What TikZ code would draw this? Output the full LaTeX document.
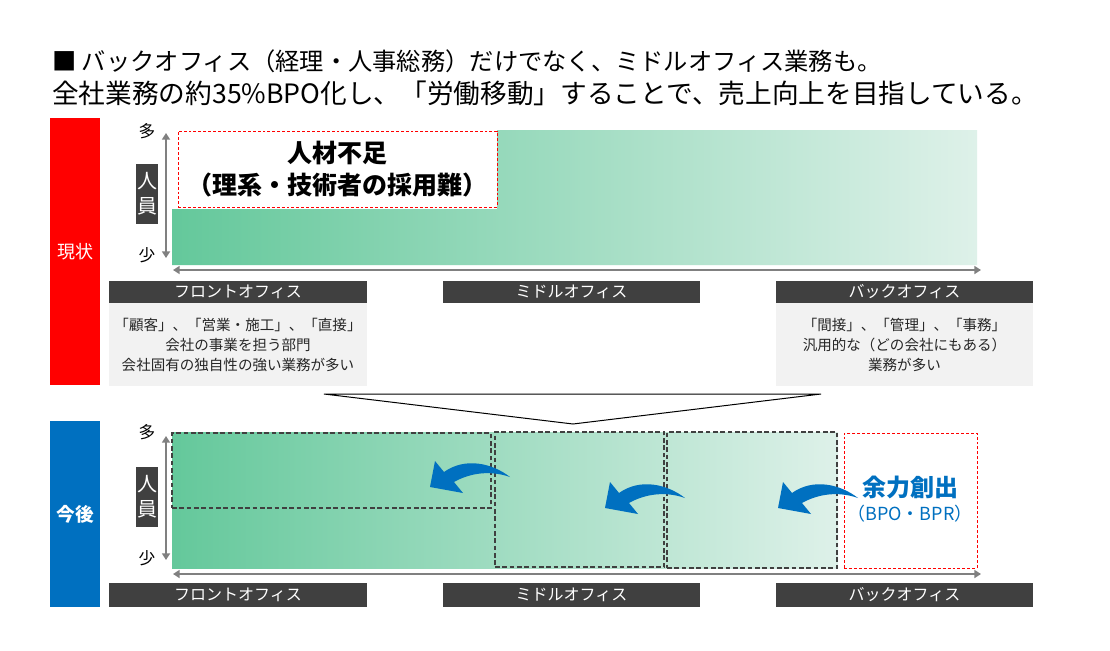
\documentclass[tikz,border=0pt]{standalone}
\usepackage{fontspec}
\setmainfont{Noto Sans CJK JP}
\usetikzlibrary{arrows.meta,fit}
\definecolor{gstart}{RGB}{100,200,155}
\definecolor{gend}{RGB}{222,241,233}
\definecolor{barc}{RGB}{64,64,64}
\definecolor{descc}{RGB}{242,242,242}
\definecolor{blueA}{RGB}{0,112,192}
\definecolor{axisc}{RGB}{128,128,128}
\definecolor{dashc}{RGB}{64,64,64}
\definecolor{txtc}{RGB}{38,38,38}
\tikzset{
  bar/.style={fill=barc, inner sep=0pt},
  bartxt/.style={text=white, inner sep=0pt, font=\fontsize{12}{14}\selectfont},
  desc/.style={fill=descc, inner sep=0pt},
  desctxt/.style={text=txtc, inner sep=0pt, align=center, font=\fontsize{10.9}{15}\selectfont},
  sidetag/.style={inner sep=0pt},
  staff/.style={fill=barc, inner sep=0pt},
  stafftxt/.style={text=white, inner sep=0pt, align=center, font=\fontsize{15}{18.75}\selectfont},
  axisline/.style={draw=axisc, line width=1.6pt, {Triangle[length=5pt,width=6pt]}-{Triangle[length=5pt,width=6pt]}},
  amount/.style={inner sep=0pt, text=black, font=\fontsize{12.5}{14}\selectfont},
  reddash/.style={draw=red, line width=0.75pt, dash pattern=on 2.2pt off 1.5pt, inner sep=0pt},
  greydash/.style={draw=dashc, line width=1.5pt, dash pattern=on 3.5pt off 2pt, inner sep=0pt},
  bigtxt/.style={inner sep=0pt, font=\fontsize{18.75}{22}\selectfont\bfseries},
  bentarrow/.pic={\fill[blueA] (0,0) -- (5,-26) -- (14,-15) .. controls (35,-30) and (62,-24) .. (80,-10) .. controls (60,-17) and (40,-14) .. (24,-5) -- (33,6) -- cycle;}
}
\begin{document}
\begin{tikzpicture}[x=0.75pt,y=-0.75pt]
\useasboundingbox (0,0) rectangle (1110,650);
\fill[white] (0,0) rectangle (1110,650);
% title
\node[anchor=west, inner sep=0pt, font=\fontsize{18.2}{20}\selectfont] (t1) at (52,61) {■ バックオフィス（経理・人事総務）だけでなく、ミドルオフィス業務も。};
\node[anchor=west, inner sep=0pt, font=\fontsize{20}{22}\selectfont] (t2) at (52,93) {全社業務の約35\%BPO化し、「労働移動」することで、売上向上を目指している。};
% side tags
\node[sidetag, fill=red, fit={(50,118) (100,385)}] (now) {};
\node[text=white, inner sep=0pt, font=\fontsize{13.5}{15}\selectfont] (nowt) at (now.center) {現状};
\node[sidetag, fill=blueA, fit={(50,421) (100,607)}] (future) {};
\node[text=white, inner sep=0pt, font=\fontsize{14}{15}\selectfont\bfseries] (futuret) at (future.center) {今後};
% ===== upper chart =====
\shade[left color=gstart, right color=gend] (172,209) -- (497,209) -- (497,130) -- (977,130) -- (977,265) -- (172,265) -- cycle;
\node[reddash, fit={(178,131) (497,207)}] (short) {};
\node[bigtxt] (s1) at (337,153) {人材不足};
\node[bigtxt] (s2) at (337,185) {（理系・技術者の採用難）};
\node[amount] (umany) at (147,131) {多};
\node[amount] (ufew) at (147,255) {少};
\node[staff, fit={(136,164) (158,224)}] (ustaff) {};
\node[stafftxt] (ustafft) at (ustaff.center) {人\\員};
\coordinate (uy1) at (166,133);
\coordinate (uy2) at (166,258);
\draw[axisline] (uy1) -- (uy2);
\coordinate (ux1) at (173,270);
\coordinate (ux2) at (981,270);
\draw[axisline] (ux1) -- (ux2);
\node[bar, fit={(109,281) (367,303)}] (uf) {};
\node[bartxt] (uft) at (uf.center) {フロントオフィス};
\node[bar, fit={(443,281) (700,303)}] (um) {};
\node[bartxt] (umt) at (um.center) {ミドルオフィス};
\node[bar, fit={(776,281) (1033,303)}] (ub) {};
\node[bartxt] (ubt) at (ub.center) {バックオフィス};
\node[desc, fit={(109,303) (367,386)}] (ufd) {};
\node[desctxt] (ufdt) at (ufd.center) {「顧客」、「営業・施工」、「直接」\\会社の事業を担う部門\\会社固有の独自性の強い業務が多い};
\node[desc, fit={(776,303) (1033,386)}] (ubd) {};
\node[desctxt] (ubdt) at (ubd.center) {「間接」、「管理」、「事務」\\汎用的な（どの会社にもある）\\業務が多い};
% funnel
\coordinate (fl) at (324,394);
\coordinate (fr) at (821,394);
\coordinate (fa) at (573,424);
\draw[line width=0.75pt] (fl) -- (fr) -- (fa) -- cycle;
% ===== lower chart =====
\shade[left color=gstart, right color=gend] (172,432) rectangle (838,568);
\node[greydash, fit={(172,433) (491,508)}] (b1) {};
\node[greydash, fit={(495,432) (664,567)}] (b2) {};
\node[greydash, fit={(667,432) (837,568)}] (b3) {};
\node[reddash, fit={(844,433) (977,568)}] (spare) {};
\node[inner sep=0pt, text=blueA, font=\fontsize{18}{20}\selectfont\bfseries] (sp1) at (910,487) {余力創出};
\node[inner sep=0pt, text=blueA, font=\fontsize{13.5}{15}\selectfont] (sp2) at (910,514) {（BPO・BPR）};
\pic at (430,487) {bentarrow};
\pic at (605,508) {bentarrow};
\pic at (778,508) {bentarrow};
\node[amount] (lmany) at (147,432) {多};
\node[amount] (lfew) at (147,558) {少};
\node[staff, fit={(136,467) (158,527)}] (lstaff) {};
\node[stafftxt] (lstafft) at (lstaff.center) {人\\員};
\coordinate (ly1) at (166,436);
\coordinate (ly2) at (166,560);
\draw[axisline] (ly1) -- (ly2);
\coordinate (lx1) at (173,574);
\coordinate (lx2) at (981,574);
\draw[axisline] (lx1) -- (lx2);
\node[bar, fit={(109,583) (367,607)}] (lf) {};
\node[bartxt] (lft) at (lf.center) {フロントオフィス};
\node[bar, fit={(443,583) (700,607)}] (lm) {};
\node[bartxt] (lmt) at (lm.center) {ミドルオフィス};
\node[bar, fit={(776,583) (1033,607)}] (lb) {};
\node[bartxt] (lbt) at (lb.center) {バックオフィス};
\end{tikzpicture}
\end{document}
